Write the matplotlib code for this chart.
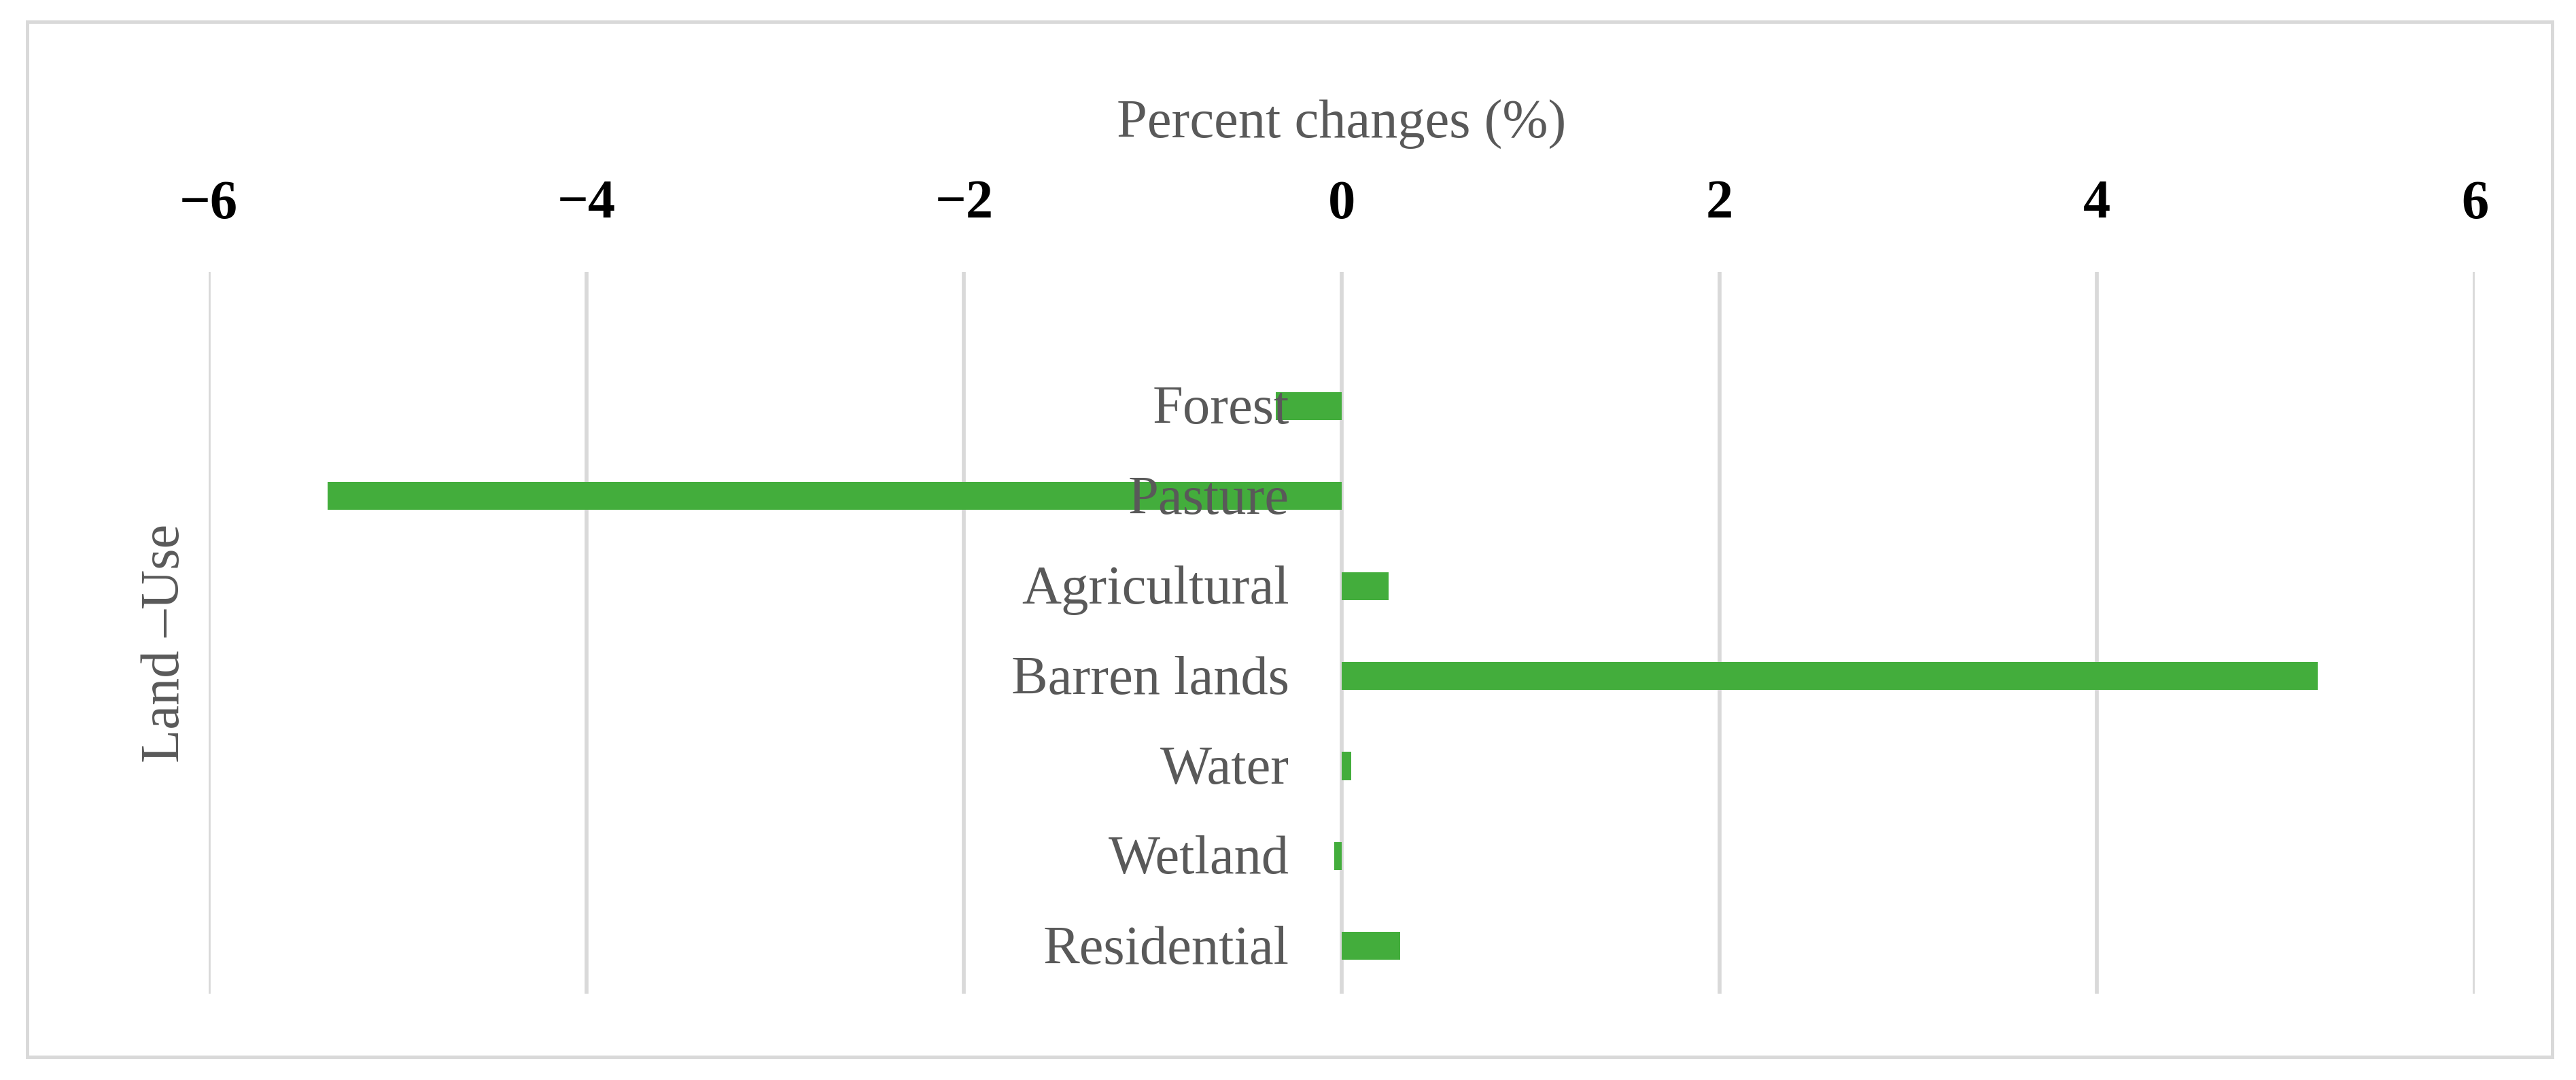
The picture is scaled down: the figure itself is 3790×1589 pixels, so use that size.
import matplotlib
matplotlib.use("Agg")
import matplotlib.pyplot as plt
from matplotlib.patches import Rectangle
from matplotlib.transforms import offset_copy

# ---- data ----
categories = ["Forest", "Pasture", "Agricultural", "Barren lands", "Water", "Wetland", "Residential"]
changes = [-0.35, -5.37, 0.25, 5.17, 0.05, -0.04, 0.31]
xticks = [-6, -4, -2, 0, 2, 4, 6]
x_title = "Percent changes (%)"
y_title = "Land \u2013Use"

GREEN = "#43AD3C"
GRID = "#D9D9D9"
GRAY = "#595959"
SERIF = ["Liberation Serif", "DejaVu Serif"]

W, H, DPI = 3790, 1589, 100
fig = plt.figure(figsize=(W / DPI, H / DPI), dpi=DPI)
fig.patch.set_facecolor("white")

ax_left, ax_right = 307 / W, 3641 / W
ax_top, ax_bot = 1 - 400 / H, 1 - 1462 / H
ax = fig.add_axes([ax_left, ax_bot, ax_right - ax_left, ax_top - ax_bot])

n = len(categories)
ypos = [n - 1 - i for i in range(n)]  # first category at top
ax.barh(ypos, changes, height=0.31, color=GREEN, zorder=2)

ax.set_xlim(-6, 6)
ax.set_ylim(-0.53, 7.49)
ax.set_xticks(xticks)
ax.set_xticklabels([f"{t:d}".replace("-", "\u2212") for t in xticks],
                   fontfamily=SERIF, fontweight="bold", fontsize=58, color="black")
ax.xaxis.tick_top()
ax.tick_params(axis="x", length=0, pad=45)
ax.set_yticks([])
for s in ax.spines.values():
    s.set_visible(False)
ax.grid(axis="x", color=GRID, linewidth=4.1, zorder=0)
ax.set_axisbelow(True)

# category labels just left of the zero line
trans = offset_copy(ax.transData, fig=fig, x=-77, y=-26, units="dots")
for y, name in zip(ypos, categories):
    ax.text(0, y, name, transform=trans, ha="right", va="baseline",
            fontfamily=SERIF, fontsize=58, color=GRAY, zorder=3)

# axis titles
ax.xaxis.set_label_position("top")
ax.set_xlabel(x_title, fontfamily=SERIF, fontsize=58, color=GRAY)
ax.xaxis.set_label_coords(0.5, 1.204)
ax.xaxis.label.set_va("center")
ax.set_ylabel(y_title, fontfamily=SERIF, fontsize=58, color=GRAY)
ax.yaxis.set_label_coords(-0.0189, 0.485)
ax.yaxis.label.set_va("center")

# outer chart border
fig.patches.append(Rectangle((40 / W, 1 - 1555 / H), (3755 - 40) / W, (1555 - 32) / H,
                             transform=fig.transFigure, fill=False,
                             edgecolor=GRID, linewidth=3.6))

fig.savefig("out.png", dpi=DPI, facecolor="white")
